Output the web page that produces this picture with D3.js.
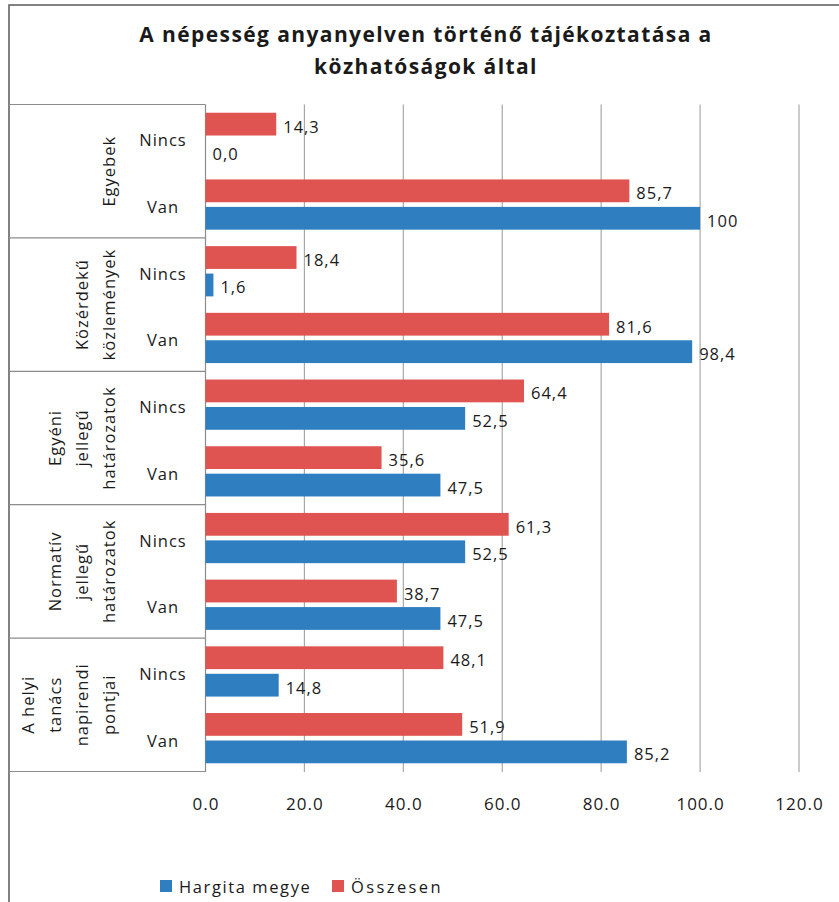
<!DOCTYPE html>
<html>
<head>
<meta charset="utf-8">
<script src="https://cdn.jsdelivr.net/npm/d3@7"></script>
<style>
  html, body { margin: 0; padding: 0; background: #ffffff; }
  svg { display: block; }
  text { font-family: "Open Sans", "DejaVu Sans", sans-serif; fill: #1a1a1a; }
</style>
</head>
<body>
<script>
// ---------- data ----------
const titleLines = ["A népesség anyanyelven történő tájékoztatása a", "közhatóságok által"];
const groups = [
  ["Egyebek"],
  ["Közérdekű", "közlemények"],
  ["Egyéni", "jellegű", "határozatok"],
  ["Normatív", "jellegű", "határozatok"],
  ["A helyi", "tanács", "napirendi", "pontjai"]
];
const subcats = ["Nincs", "Van"];
const seriesNames = ["Összesen", "Hargita megye"];
// order: for each group, Nincs then Van (top to bottom)
const osszesen = [14.3, 85.7, 18.4, 81.6, 64.4, 35.6, 61.3, 38.7, 48.1, 51.9];
const hargita  = [0.0, 100, 1.6, 98.4, 52.5, 47.5, 52.5, 47.5, 14.8, 85.2];
const tickValues = [0, 20, 40, 60, 80, 100, 120];
const legendNames = ["Hargita megye", "Összesen"];

// ---------- setup ----------
const W = 839, H = 902;
const colors = { "Hargita megye": "#2F7EC0", "Összesen": "#DF5350" };
const svg = d3.select("body").append("svg").attr("width", W).attr("height", H);

const x = d3.scaleLinear().domain([0, 120]).range([205.5, 799]);
const rows = [];
groups.forEach((g, gi) => subcats.forEach((s, si) => rows.push({ gi, si, sub: s })));
const y0 = d3.scaleBand().domain(d3.range(rows.length)).range([104.5, 771.5]).paddingInner(0).paddingOuter(0);
const y1 = d3.scaleBand().domain(seriesNames).range([0, y0.bandwidth()]).paddingInner(0.17).paddingOuter(0.3);
const gScale = d3.scaleBand().domain(d3.range(groups.length)).range([104.5, 771.5]);

// frame
svg.append("rect").attr("x", 9).attr("y", 5).attr("width", W + 20).attr("height", H + 20)
  .attr("fill", "none").attr("stroke", "#5a5a5a").attr("stroke-width", 1.5);

// title
svg.append("g").selectAll("text").data(titleLines).join("text")
  .attr("x", 426).attr("y", (d, i) => 42 + i * 32)
  .attr("text-anchor", "middle")
  .style("font-size", "21px").style("font-weight", "700").style("letter-spacing", "1.4px")
  .text(d => d);

// gridlines
svg.append("g").selectAll("line").data(tickValues.slice(1)).join("line")
  .attr("x1", d => x(d)).attr("x2", d => x(d))
  .attr("y1", 104.5).attr("y2", 772)
  .attr("stroke", "#a8a8a8").attr("stroke-width", 1.2);
svg.append("line").attr("x1", x(0)).attr("x2", x(0)).attr("y1", 104.5).attr("y2", 772)
  .attr("stroke", "#8c8c8c").attr("stroke-width", 1.2);

// category table lines
const bounds = d3.range(groups.length + 1).map(i => 104.5 + i * gScale.step());
svg.append("g").selectAll("line").data(bounds).join("line")
  .attr("x1", 9).attr("x2", x(0)).attr("y1", d => d).attr("y2", d => d)
  .attr("stroke", "#8c8c8c").attr("stroke-width", 1.2);

// bars
const barData = [];
rows.forEach((r, i) => {
  barData.push({ row: i, series: "Összesen", value: osszesen[i] });
  barData.push({ row: i, series: "Hargita megye", value: hargita[i] });
});
const fmt = v => v === 100 ? "100" : d3.format(".1f")(v).replace(".", ",");
svg.append("g").selectAll("rect").data(barData).join("rect")
  .attr("x", x(0))
  .attr("y", d => y0(d.row) + y1(d.series))
  .attr("width", d => x(d.value) - x(0))
  .attr("height", y1.bandwidth())
  .attr("fill", d => colors[d.series]);

svg.append("g").selectAll("text").data(barData).join("text")
  .attr("x", d => x(d.value) + 7)
  .attr("y", d => y0(d.row) + y1(d.series) + y1.bandwidth() / 2 + 2)
  .attr("dominant-baseline", "central")
  .style("font-size", "16.5px").style("letter-spacing", "1px")
  .text(d => fmt(d.value));

// sub-category labels
svg.append("g").selectAll("text").data(rows).join("text")
  .attr("x", 163).attr("y", (d, i) => y0(i) + y0.bandwidth() / 2 + 2)
  .attr("text-anchor", "middle").attr("dominant-baseline", "central")
  .style("font-size", "16.5px").style("letter-spacing", "1px")
  .text(d => d.sub);

// group labels (rotated)
const gl = svg.append("g");
groups.forEach((lines, gi) => {
  const cy = gScale(gi) + gScale.bandwidth() / 2;
  const n = lines.length;
  lines.forEach((t, li) => {
    const bx = 114.5 - (n - 1 - li) * 26.7;
    gl.append("text")
      .attr("transform", `translate(${bx},${cy}) rotate(-90)`)
      .attr("text-anchor", "middle")
      .style("font-size", "16.5px").style("letter-spacing", "1px")
      .text(t);
  });
});

// x axis tick labels
const ax = svg.append("g").attr("transform", "translate(0,772)")
  .call(d3.axisBottom(x).tickValues(tickValues).tickFormat(d3.format(".1f")).tickSize(0).tickPadding(26));
ax.select(".domain").remove();
ax.selectAll("text").style("font-size", "17px").style("letter-spacing", "1px")
  .style("font-family", "'Open Sans', sans-serif").attr("fill", "#1a1a1a");

// legend
const legX = [160, 332];
const lg = svg.append("g").selectAll("g").data(legendNames).join("g")
  .attr("transform", (d, i) => `translate(${legX[i]},880)`);
lg.append("rect").attr("width", 12).attr("height", 12).attr("fill", d => colors[d]);
lg.append("text").attr("x", 19).attr("y", 6.5).attr("dominant-baseline", "central")
  .style("font-size", "16.5px").style("letter-spacing", (d, i) => i === 0 ? "1.6px" : "2.4px").text(d => d);
</script>
</body>
</html>
